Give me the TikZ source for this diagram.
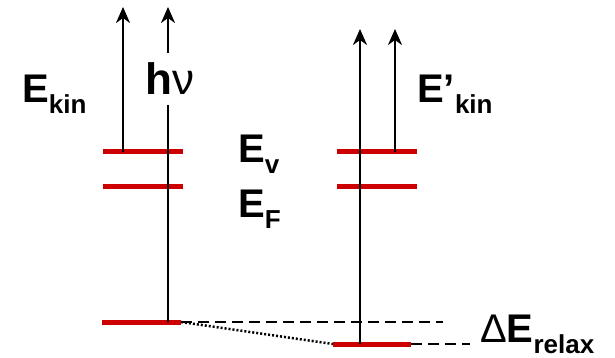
\documentclass[tikz,border=0pt]{standalone}
\usepackage{fontspec}
\setmainfont{Liberation Sans}
\definecolor{lvred}{RGB}{204,0,0}
\usetikzlibrary{arrows.meta}
\newcommand{\lowsub}[1]{\raisebox{-11pt}{\fontsize{26}{28}\selectfont #1}}

\begin{document}
\begin{tikzpicture}[x=1pt, y=-1pt,
  lbl/.style={inner sep=0pt, anchor=base west, font=\fontsize{40}{44}\selectfont\bfseries},
  lev/.style={draw=lvred, line width=5pt},
  ar/.style={-{Stealth[length=16pt, width=14pt, inset=5pt]}, line width=2.5pt},
  ln/.style={line width=2.5pt},
  dsh/.style={line width=2.5pt, dash pattern=on 11pt off 6pt},
  dot/.style={line width=2.5pt, dash pattern=on 2pt off 2pt}]
\useasboundingbox (0,0) rectangle (615,358);
% levels, initial state
\coordinate (lv1) at (103,152); \coordinate (lv2) at (183,152);
\coordinate (lf1) at (103,186); \coordinate (lf2) at (183,186);
\coordinate (lc1) at (102,322); \coordinate (lc2) at (181,322);
% levels, relaxed final state
\coordinate (rv1) at (337,152); \coordinate (rv2) at (417,152);
\coordinate (rf1) at (337,186); \coordinate (rf2) at (417,186);
\coordinate (rc1) at (333,344); \coordinate (rc2) at (411,344);
% arrow ends
\coordinate (ekin) at (123,152); \coordinate (ekintop) at (123,7);
\coordinate (hvfoot) at (168,322); \coordinate (hvtop) at (168,7);
\coordinate (rhvfoot) at (360,344); \coordinate (rhvtop) at (360,29);
\coordinate (ekin2) at (395,152); \coordinate (ekin2top) at (395,29);
\coordinate (dsh1) at (443,322); \coordinate (dsh2) at (470,344);
% labels
\node[lbl] (lekin) at (22,103) {E\lowsub{kin}};
\node[inner sep=0pt, outer ysep=10pt, font=\fontsize{44}{48}\selectfont\bfseries]
  (hv) at (170,79) {h{\mdseries ν}};
\node[lbl] (lev) at (238,163) {E\lowsub{v}};
\node[lbl] (lef) at (238,217) {E\lowsub{F}};
\node[lbl] (lekin2) at (417,103) {E’\lowsub{kin}};
\node[lbl] (lrel) at (480,342) {{\mdseries Δ}E\lowsub{relax}};
\draw[lev] (lv1)--(lv2); \draw[lev] (lf1)--(lf2); \draw[lev] (lc1)--(lc2);
\draw[lev] (rv1)--(rv2); \draw[lev] (rf1)--(rf2); \draw[lev] (rc1)--(rc2);
\draw[ar] (ekin)--(ekintop);
\draw[ln] (hvfoot)--(hvfoot |- hv.south); \draw[ar] (hvfoot |- hv.north)--(hvtop);
\draw[ar] (rhvfoot)--(rhvtop); \draw[ar] (ekin2)--(ekin2top);
\draw[dsh] (lc2)--(dsh1); \draw[dot] (lc2)--(rc1); \draw[dsh] (rc2)--(dsh2);
\end{tikzpicture}
\end{document}
